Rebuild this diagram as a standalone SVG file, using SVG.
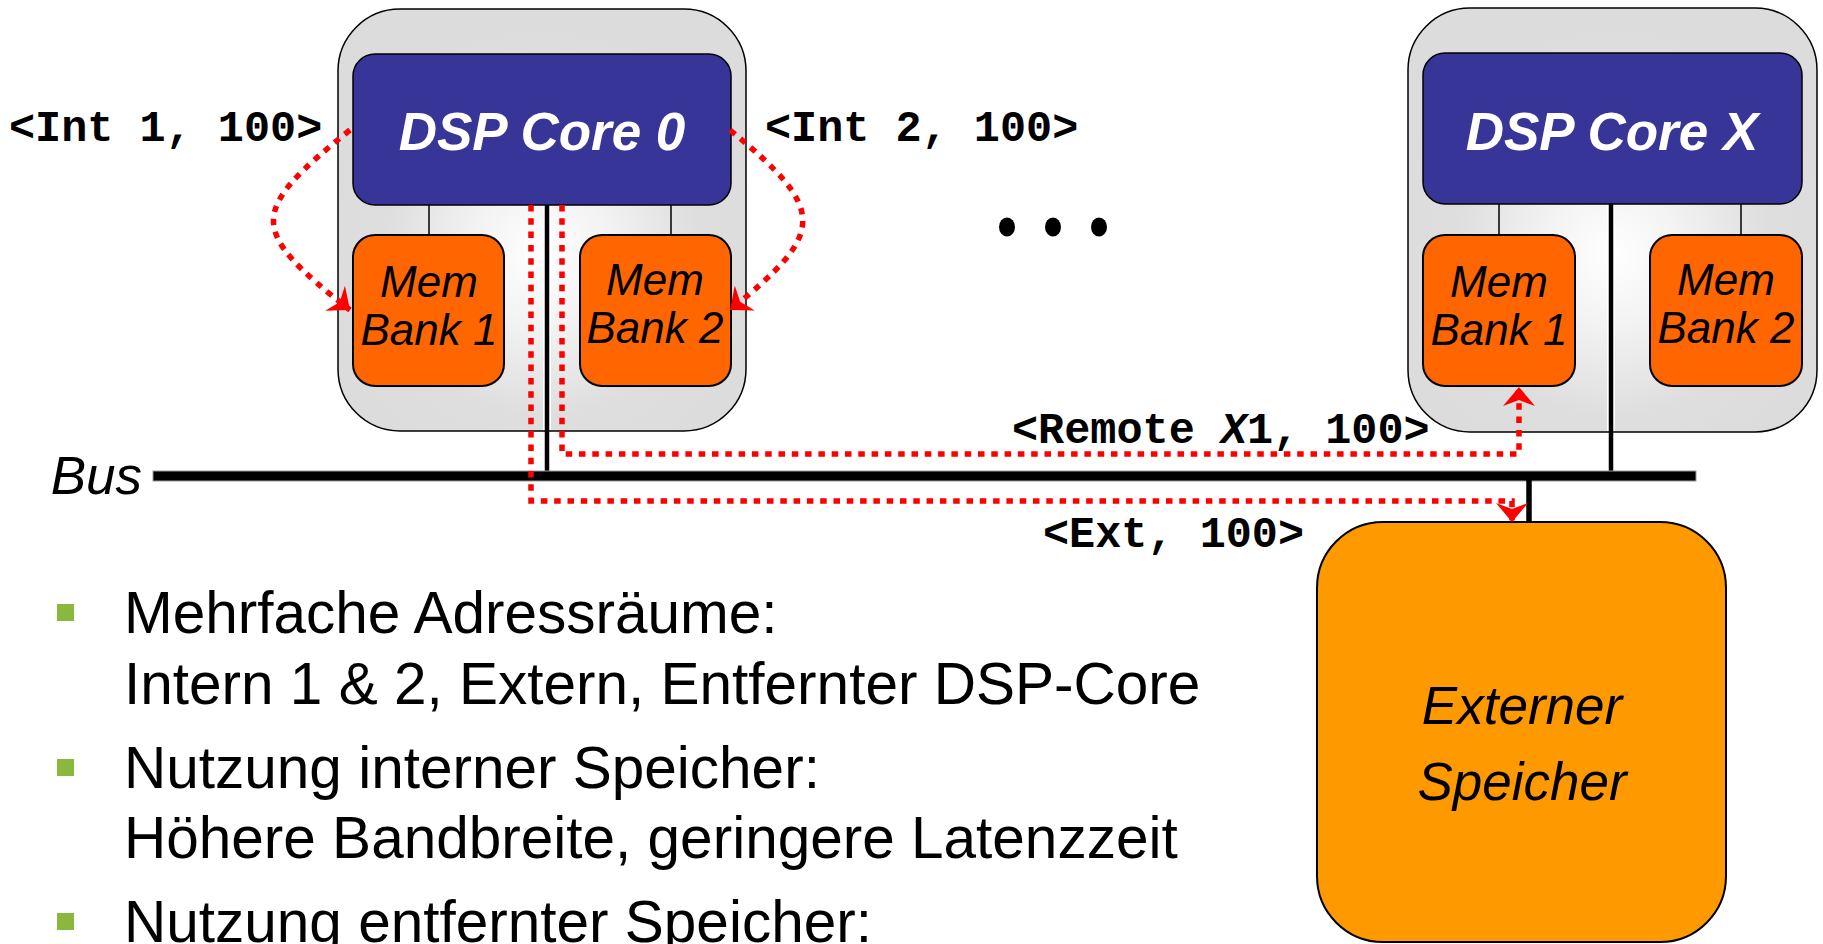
<svg xmlns="http://www.w3.org/2000/svg" width="1823" height="944" viewBox="0 0 1823 944">
  <style>
    .chip { fill: url(#chipBg); stroke: #000; stroke-width: 1.5; }
    .core { fill: #373598; stroke: #000; stroke-width: 1.5; }
    .mem { fill: #ff6600; stroke: #000; stroke-width: 2; }
    .ext { fill: #ff9900; stroke: #000; stroke-width: 2; }
    .thin { stroke: #000; stroke-width: 1.5; fill: none; }
    .halo { stroke: #fff; stroke-width: 8; fill: none; }
    .thick { stroke: #000; stroke-width: 4.5; fill: none; }
    .core-label { font-family: "Liberation Sans", Arial, sans-serif; font-weight: bold; font-style: italic; font-size: 53px; fill: #fff; text-anchor: middle; }
    .mem-label { font-family: "Liberation Sans", Arial, sans-serif; font-style: italic; font-size: 44px; fill: #000; text-anchor: middle; }
    .big-label { font-family: "Liberation Sans", Arial, sans-serif; font-style: italic; font-size: 53px; fill: #000; }
    .addr { font-family: "Liberation Mono", "Courier New", monospace; font-weight: bold; font-size: 43.5px; fill: #000; }
    .item { font-family: "Liberation Sans", Arial, sans-serif; font-size: 58.5px; fill: #000; }
    .dot { fill: #8ab83f; }
    .access { fill: none; stroke: #ff0000; stroke-width: 5.5; stroke-dasharray: 6.5 6.8; marker-end: url(#arrow); }
  </style>
  <defs>
    <radialGradient id="chipBg" cx="0.5" cy="0.58" r="0.55">
      <stop offset="0" stop-color="#ffffff"/>
      <stop offset="0.3" stop-color="#f3f3f3"/>
      <stop offset="0.7" stop-color="#dedede"/>
      <stop offset="1" stop-color="#dcdcdc"/>
    </radialGradient>
    <marker id="arrow" markerUnits="userSpaceOnUse" viewBox="0 -17 20 34" markerWidth="20" markerHeight="34" refX="19" refY="0" orient="auto">
      <path d="M0,-16 L19,0 L0,16 L6,0 Z" fill="#ff0000"/>
    </marker>
  </defs>

  <!-- DSP core 0 with its two local memory banks -->
  <g id="core0">
    <rect class="chip" x="338" y="9" width="408" height="422" rx="62"/>
    <line class="thin" x1="429" y1="205" x2="429" y2="235"/>
    <line class="thin" x1="671" y1="205" x2="671" y2="235"/>
    <line class="halo" x1="547" y1="206" x2="547" y2="430"/>
    <line class="thick" x1="547" y1="205" x2="547" y2="472"/>
    <rect class="core" x="353" y="54" width="378" height="151" rx="22"/>
    <text class="core-label" x="542" y="150">DSP Core 0</text>
    <rect class="mem" x="353" y="235" width="151" height="151" rx="22"/>
    <text class="mem-label" x="429" y="297">Mem</text>
    <text class="mem-label" x="429" y="345">Bank 1</text>
    <rect class="mem" x="580" y="235" width="151" height="151" rx="22"/>
    <text class="mem-label" x="655" y="295">Mem</text>
    <text class="mem-label" x="655" y="343">Bank 2</text>
  </g>

  <!-- DSP core X with its two local memory banks -->
  <g id="coreX">
    <rect class="chip" x="1408" y="8" width="409" height="424" rx="62"/>
    <line class="thin" x1="1499" y1="204" x2="1499" y2="235"/>
    <line class="thin" x1="1741" y1="204" x2="1741" y2="235"/>
    <line class="halo" x1="1611" y1="205" x2="1611" y2="431"/>
    <line class="thick" x1="1611" y1="204" x2="1611" y2="472"/>
    <rect class="core" x="1423" y="53" width="379" height="151" rx="22"/>
    <text class="core-label" x="1612" y="150">DSP Core X</text>
    <rect class="mem" x="1423" y="235" width="152" height="151" rx="22"/>
    <text class="mem-label" x="1499" y="297">Mem</text>
    <text class="mem-label" x="1499" y="345">Bank 1</text>
    <rect class="mem" x="1650" y="235" width="152" height="151" rx="22"/>
    <text class="mem-label" x="1726" y="295">Mem</text>
    <text class="mem-label" x="1726" y="343">Bank 2</text>
  </g>

  <!-- further cores -->
  <g id="more-cores">
    <ellipse cx="1007" cy="227" rx="8" ry="9.5"/>
    <ellipse cx="1053" cy="227" rx="8" ry="9.5"/>
    <ellipse cx="1099" cy="227" rx="8" ry="9.5"/>
  </g>

  <!-- shared bus -->
  <g id="bus">
    <rect x="153" y="471" width="1543" height="10" fill="#000" stroke="#9a9a9a" stroke-width="1"/>
    <text class="big-label" x="142" y="494" text-anchor="end">Bus</text>
  </g>

  <!-- external memory -->
  <g id="ext-mem">
    <line class="thick" x1="1529" y1="480" x2="1529" y2="523" style="stroke-width:5.5"/>
    <rect class="ext" x="1317" y="522" width="409" height="420" rx="66"/>
    <text class="big-label" x="1522" y="724" text-anchor="middle">Externer</text>
    <text class="big-label" x="1522" y="800" text-anchor="middle">Speicher</text>
  </g>

  <!-- accesses issued by DSP core 0 -->
  <g id="connectors">
    <path class="access" d="M350,130 C248,212 248,230 350,310"/>
    <path class="access" d="M730,130 C827,210 827,232 730,310"/>
    <path class="access" d="M562,205 V454 H1519 V387"/>
    <path class="access" d="M531,205 V501 H1512 V522"/>
  </g>

  <!-- access tuples -->
  <g id="addr-labels">
    <text class="addr" x="9" y="141">&lt;Int 1, 100&gt;</text>
    <text class="addr" x="765" y="141">&lt;Int 2, 100&gt;</text>
    <text class="addr" x="1012" y="443">&lt;Remote <tspan font-style="italic">X</tspan>1, 100&gt;</text>
    <text class="addr" x="1043" y="547">&lt;Ext, 100&gt;</text>
  </g>

  <!-- bullet list -->
  <g id="notes">
    <rect class="dot" x="57" y="604" width="17" height="17"/>
    <rect class="dot" x="57" y="759" width="17" height="17"/>
    <rect class="dot" x="57" y="913" width="17" height="17"/>
    <text class="item" x="124" y="633">Mehrfache Adressräume:</text>
    <text class="item" x="124" y="704">Intern 1 &amp; 2, Extern, Entfernter DSP-Core</text>
    <text class="item" x="124" y="788">Nutzung interner Speicher:</text>
    <text class="item" x="124" y="858">Höhere Bandbreite, geringere Latenzzeit</text>
    <text class="item" x="124" y="942">Nutzung entfernter Speicher:</text>
  </g>
</svg>
